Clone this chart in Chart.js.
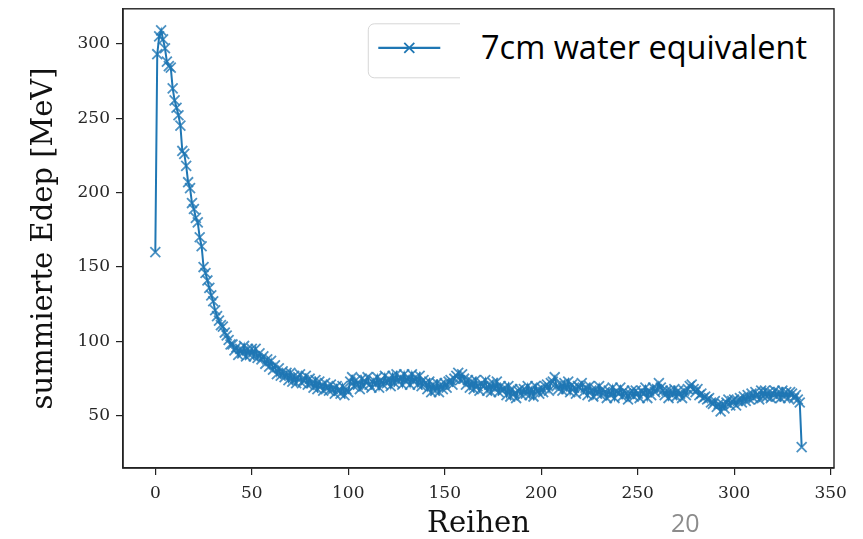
<!DOCTYPE html>
<html>
<head>
<meta charset="utf-8">
<script src="https://cdn.jsdelivr.net/npm/chart.js@4.4.1/dist/chart.umd.min.js"></script>
<style>
  html, body { margin: 0; padding: 0; background: #fff; }
  #wrap { position: relative; width: 863px; height: 539px; }
  #edepChart { position: absolute; left: 0; top: 0; }
  #legendText {
    position: absolute; left: 460px; top: 19px; width: 366px; height: 60px;
    background: #fff; padding-left: 21px; box-sizing: border-box;
    font-family: "Open Sans", sans-serif; font-size: 32.5px; line-height: 56px; color: #000;
  }
  #slideNo {
    position: absolute; left: 671px; top: 505px;
    font-family: "Open Sans", sans-serif; font-size: 25px; color: #8c8c8c;
  }
</style>
</head>
<body>
<div id="wrap">
  <canvas id="edepChart" width="863" height="539"></canvas>
  <div id="legendText">7cm water equivalent</div>
  <div id="slideNo">20</div>
</div>
<script>
// summierte Edep pro Reihe (MeV), Reihe 0..335
const edep = [
  160, 293, 305, 309, 303, 297, 288, 285, 284, 270,
  262, 257, 252, 245, 228, 226, 218, 207, 203, 193,
  189, 183, 180, 170, 164, 150, 146, 141, 136, 131,
  127, 121, 117, 114, 111, 110, 106, 104, 101, 98,
  98, 94, 96, 91, 95, 92, 97, 90, 95, 91,
  95, 90, 95, 89, 92, 88, 90, 85, 88, 83,
  87, 81, 84, 78, 82, 77, 80, 76, 79, 74,
  79, 73, 77, 72, 76, 78, 72, 74, 77, 71,
  75, 72, 69, 74, 68, 73, 70, 67, 72, 69,
  67, 71, 68, 65, 70, 67, 65, 70, 64, 68,
  66, 73, 76, 70, 74, 71, 68, 75, 70, 73,
  76, 71, 69, 74, 71, 76, 69, 74, 71, 77,
  72, 75, 70, 77, 72, 78, 73, 76, 71, 78,
  73, 76, 71, 78, 73, 76, 71, 77, 70, 74,
  72, 68, 73, 66, 71, 67, 72, 66, 71, 68,
  72, 69, 73, 74, 71, 75, 77, 79, 74, 78,
  75, 71, 74, 69, 73, 68, 74, 70, 67, 72,
  70, 74, 67, 71, 66, 72, 68, 73, 66, 70,
  67, 69, 64, 70, 63, 68, 65, 62, 67, 68,
  64, 68, 65, 70, 64, 68, 63, 70, 67, 65,
  69, 66, 70, 71, 67, 72, 73, 76, 70, 68,
  71, 67, 72, 68, 73, 66, 71, 69, 65, 70,
  69, 72, 66, 69, 64, 70, 67, 63, 68, 65,
  70, 64, 68, 66, 62, 67, 64, 69, 62, 67,
  65, 69, 63, 67, 65, 61, 65, 67, 63, 67,
  65, 62, 67, 65, 69, 62, 67, 64, 69, 66,
  68, 72, 69, 67, 64, 67, 62, 67, 64, 68,
  63, 67, 65, 62, 67, 64, 68, 70, 71, 68,
  66, 68, 64, 65, 62, 63, 61, 62, 59, 58,
  60, 56, 58, 53, 58, 55, 59, 61, 57, 60,
  61, 57, 60, 62, 59, 63, 60, 64, 61, 65,
  62, 66, 64, 61, 67, 63, 67, 63, 66, 62,
  65, 67, 63, 66, 62, 67, 63, 66, 62, 66,
  65, 62, 64, 61, 59, 29
];
const xTicks = [0, 50, 100, 150, 200, 250, 300, 350];
const yTicks = [50, 100, 150, 200, 250, 300];
const seriesLabel = '7cm water equivalent';

const blue = '#1f77b4';
const serif = "'DejaVu Serif', serif";

// Rahmen oben/rechts + Legendenkasten
const frameAndLegend = {
    id: 'frameAndLegend',
    afterDraw(chart) {
        const { ctx, chartArea: a } = chart;
        ctx.save();
        ctx.strokeStyle = '#222';
        ctx.lineWidth = 1.4;
        ctx.strokeRect(a.left, a.top, a.right - a.left, a.bottom - a.top);

        const bx = a.left + (a.right - a.left) * 0.345;
        const by = a.top + 15;
        const bw = 200, bh = 54, r = 6;
        ctx.beginPath();
        ctx.moveTo(bx + r, by);
        ctx.lineTo(bx + bw - r, by);
        ctx.arcTo(bx + bw, by, bx + bw, by + r, r);
        ctx.lineTo(bx + bw, by + bh - r);
        ctx.arcTo(bx + bw, by + bh, bx + bw - r, by + bh, r);
        ctx.lineTo(bx + r, by + bh);
        ctx.arcTo(bx, by + bh, bx, by + bh - r, r);
        ctx.lineTo(bx, by + r);
        ctx.arcTo(bx, by, bx + r, by, r);
        ctx.closePath();
        ctx.fillStyle = 'rgba(255,255,255,0.85)';
        ctx.fill();
        ctx.strokeStyle = '#d6d6d6';
        ctx.lineWidth = 1;
        ctx.stroke();

        const ly = by + 24;
        ctx.strokeStyle = blue;
        ctx.lineWidth = 2.2;
        ctx.beginPath();
        ctx.moveTo(bx + 10, ly);
        ctx.lineTo(bx + 72, ly);
        ctx.stroke();
        const mx = bx + 41, m = 5;
        ctx.lineWidth = 1.8;
        ctx.beginPath();
        ctx.moveTo(mx - m, ly - m); ctx.lineTo(mx + m, ly + m);
        ctx.moveTo(mx - m, ly + m); ctx.lineTo(mx + m, ly - m);
        ctx.stroke();
        ctx.restore();
    }
};

const ctx = document.getElementById('edepChart').getContext('2d');
window.edepChart = new Chart(ctx, {
    type: 'line',
    data: {
        datasets: [{
            label: seriesLabel,
            data: edep.map((v, i) => ({ x: i, y: v })),
            borderColor: blue,
            backgroundColor: blue,
            borderWidth: 2,
            pointStyle: 'crossRot',
            pointRadius: 7,
            pointBorderWidth: 1.8,
            pointBorderColor: 'rgba(31,119,180,0.8)',
            fill: false,
            tension: 0
        }]
    },
    options: {
        responsive: false,
        animation: false,
        layout: { padding: { top: 7, right: 29, left: 0, bottom: 0 } },
        plugins: {
            legend: { display: false },
            tooltip: { enabled: false }
        },
        scales: {
            x: {
                type: 'linear',
                min: -16.75,
                max: 351.75,
                afterBuildTicks: (scale) => { scale.ticks = xTicks.map(v => ({ value: v })); },
                afterFit: (scale) => { scale.height = 71; scale.paddingLeft = 0; scale.paddingRight = 0; },
                grid: { drawOnChartArea: false, drawTicks: true, tickLength: 7, color: '#222', lineWidth: 1.2 },
                border: { display: true, color: '#222', width: 1.4 },
                ticks: {
                    color: '#262626',
                    padding: 8,
                    maxRotation: 0,
                    font: { family: serif, size: 17 }
                },
                title: {
                    display: true,
                    text: 'Reihen',
                    color: '#111',
                    padding: { top: 0, bottom: 0 },
                    font: { family: serif, size: 29, lineHeight: 1 }
                }
            },
            y: {
                type: 'linear',
                min: 15,
                max: 323.5,
                afterBuildTicks: (scale) => { scale.ticks = yTicks.map(v => ({ value: v })); },
                afterFit: (scale) => { scale.width = 123; scale.paddingTop = 0; scale.paddingBottom = 0; },
                grid: { drawOnChartArea: false, drawTicks: true, tickLength: 7, color: '#222', lineWidth: 1.2 },
                border: { display: true, color: '#222', width: 1.4 },
                ticks: {
                    color: '#262626',
                    padding: 6,
                    font: { family: serif, size: 17 }
                },
                title: {
                    display: true,
                    text: 'summierte Edep [MeV]',
                    color: '#111',
                    padding: { top: 30, bottom: 0 },
                    font: { family: serif, size: 29, lineHeight: 1 }
                }
            }
        }
    },
    plugins: [frameAndLegend]
});
</script>
</body>
</html>
